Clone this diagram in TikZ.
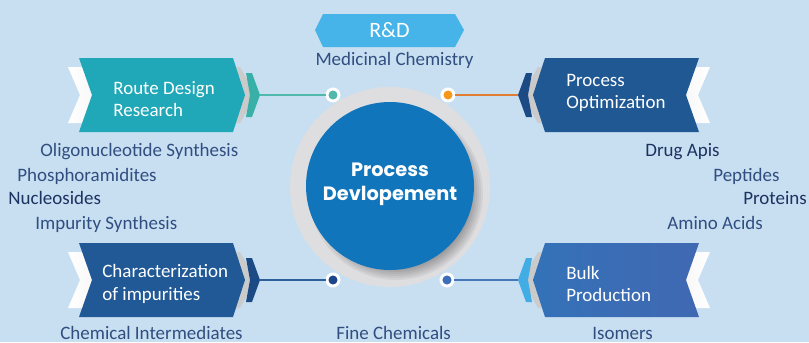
\documentclass[tikz,border=0pt]{standalone}
\usepackage{fontspec}
\setmainfont{Carlito}
\newfontfamily\hubfont{Poppins}
\usetikzlibrary{shadows}
\definecolor{bgblue}{RGB}{200,223,242}
\definecolor{itemblue}{RGB}{48,78,128}
\definecolor{itemdark}{RGB}{28,50,96}
\definecolor{routecol}{RGB}{32,168,184}
\definecolor{routeacc}{RGB}{56,176,168}
\definecolor{optcol}{RGB}{32,88,148}
\definecolor{optacc}{RGB}{28,74,132}
\definecolor{charcol}{RGB}{33,89,150}
\definecolor{characc}{RGB}{28,74,132}
\definecolor{bulkleft}{RGB}{52,114,184}
\definecolor{bulkright}{RGB}{64,104,178}
\definecolor{bulkacc}{RGB}{66,172,228}
\definecolor{rdcol}{RGB}{70,180,232}
\definecolor{hubblue}{RGB}{16,117,186}
\definecolor{ringgray}{RGB}{222,222,224}
\definecolor{tealdot}{RGB}{80,185,172}
\definecolor{orangedot}{RGB}{247,152,29}
\definecolor{orangeline}{RGB}{225,125,50}
\definecolor{navydot}{RGB}{30,70,140}
\definecolor{navyline}{RGB}{45,95,155}
\definecolor{bluedot}{RGB}{60,110,185}
\definecolor{blueline}{RGB}{70,120,185}

\begin{document}
\begin{tikzpicture}[x=0.02cm,y=-0.02cm,
    txt/.style={font=\fontsize{10.8}{13}\selectfont},
    boxtext/.style={txt,text=white,align=left,anchor=west,inner sep=0pt},
    item/.style={txt,anchor=base west,inner sep=0pt,text=itemblue},
    itemdark/.style={item,text=itemdark},
    dot/.style={circle,fill=#1,draw=white,line width=1.7pt,minimum size=0.24cm,inner sep=0pt,
        drop shadow={shadow xshift=0.6pt,shadow yshift=-0.6pt,opacity=0.25}},
    link/.style={draw=#1,line width=0.6pt},
    backing/.style={left color=white,right color=black!22},
    backingr/.style={left color=black!22,right color=white}]
    \fill[bgblue] (0,0) rectangle (809,342);
    \useasboundingbox (0,0) rectangle (809,342);

    \fill[rdcol] (315,30) -- (323,14) -- (455,14) -- (464,30) -- (455,47) -- (323,47) -- cycle;
    \node[txt,text=white,font=\fontsize{12.5}{15}\selectfont] (rd) at (389.5,30) {R\&D};
    \node[item,anchor=base] (medchem) at (394.5,65) {Medicinal Chemistry};

    \shade[backing] (68,67) -- (240,67) -- (256,95) -- (240,123) -- (68,123) -- (80,95) -- cycle;
    \fill[routecol] (79,58) -- (233,58) -- (245,95) -- (233,132) -- (79,132) -- (92,95) -- cycle;
    \fill[routeacc] (246,73) -- (252,73) -- (260,95) -- (252,117) -- (246,117) -- (250,95) -- cycle;
    \node[boxtext] (route) at (113,99) {Route Design\\Research};
    \coordinate (routeTip) at (260,95);

    \shade[backing] (68,252) -- (240,252) -- (256,280) -- (240,308) -- (68,308) -- (80,280) -- cycle;
    \fill[charcol] (79,243) -- (233,243) -- (245,280) -- (233,317) -- (79,317) -- (92,280) -- cycle;
    \fill[characc] (246,258) -- (252,258) -- (260,280) -- (252,302) -- (246,302) -- (250,280) -- cycle;
    \node[boxtext] (charac) at (102,284) {Characterization\\of impurities};
    \coordinate (characTip) at (260,280);

    \shade[backingr] (710,67) -- (538,67) -- (522,95) -- (538,123) -- (710,123) -- (698,95) -- cycle;
    \fill[optcol] (699,58) -- (545,58) -- (533,95) -- (545,132) -- (699,132) -- (686,95) -- cycle;
    \fill[optacc] (532,73) -- (526,73) -- (518,95) -- (526,117) -- (532,117) -- (528,95) -- cycle;
    \node[boxtext] (opt) at (566,93) {Process\\Optimization};
    \coordinate (optTip) at (518,95);

    \shade[backingr] (710,252) -- (538,252) -- (522,280) -- (538,308) -- (710,308) -- (698,280) -- cycle;
    \shade[left color=bulkleft,right color=bulkright] (699,243) -- (545,243) -- (533,280) -- (545,317) -- (699,317) -- (686,280) -- cycle;
    \fill[bulkacc] (532,258) -- (526,258) -- (518,280) -- (526,302) -- (532,302) -- (528,280) -- cycle;
    \node[boxtext] (bulk) at (566,284) {Bulk\\Production};
    \coordinate (bulkTip) at (518,280);

    \fill[ringgray] (390,187) circle (100);
    \foreach \k in {0,...,6}
        \fill[black,opacity=0.05,shift={(6,7)}] (390,186) circle ({87-2*\k});
    \fill[hubblue] (390,186) circle (84);
    \node[text=white,align=center,font=\hubfont\bfseries\fontsize{11}{13.6}\selectfont] (hub) at (390,184) {Process\\Devlopement};

    \node[dot=tealdot] (dotRoute) at (333,95) {};
    \node[dot=orangedot] (dotOpt) at (448,95) {};
    \node[dot=navydot] (dotCharac) at (333,280) {};
    \node[dot=bluedot] (dotBulk) at (447,280) {};
    \draw[link=tealdot] (routeTip) -- (dotRoute);
    \draw[link=orangeline] (dotOpt) -- (optTip);
    \draw[link=navyline] (characTip) -- (dotCharac);
    \draw[link=blueline] (dotBulk) -- (bulkTip);

    \node[item] (oligo) at (40,156) {Oligonucleotide Synthesis};
    \node[item] (phos) at (17,181) {Phosphoramidites};
    \node[itemdark] (nucleo) at (8,204) {Nucleosides};
    \node[item] (impur) at (35,229) {Impurity Synthesis};

    \node[itemdark] (drug) at (645,156) {Drug Apis};
    \node[item] (pept) at (713,181) {Peptides};
    \node[itemdark] (prot) at (743,204) {Proteins};
    \node[item] (amino) at (667,229) {Amino Acids};

    \node[item] (chemint) at (60,339) {Chemical Intermediates};
    \node[item] (finechem) at (336,339) {Fine Chemicals};
    \node[item] (isomers) at (592,339) {Isomers};
\end{tikzpicture}
\end{document}
